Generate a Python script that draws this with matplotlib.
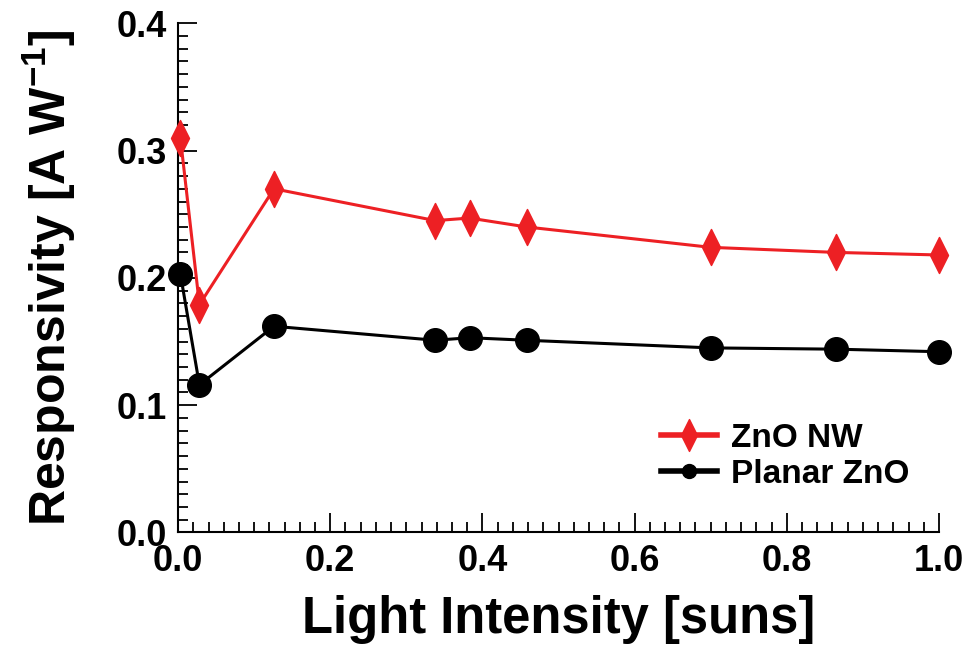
import numpy as np
import matplotlib.pyplot as plt
from matplotlib.lines import Line2D
from matplotlib.path import Path
from matplotlib.ticker import MultipleLocator

# light intensity [suns]
intensity = [0.003, 0.028, 0.126, 0.338, 0.383, 0.458, 0.700, 0.865, 1.000]
# responsivity [A/W]
resp_nw = [0.310, 0.179, 0.270, 0.245, 0.247, 0.240, 0.224, 0.220, 0.218]
resp_planar = [0.203, 0.116, 0.162, 0.151, 0.153, 0.151, 0.145, 0.144, 0.142]

plt.rcParams.update({
    "font.family": ["Liberation Sans", "DejaVu Sans"],
    "font.weight": "bold",
    "mathtext.fontset": "custom",
    "mathtext.bf": "Liberation Sans:bold",
    "mathtext.rm": "Liberation Sans:bold",
})

# slim diamond, about twice as tall as wide
diamond = Path([(0, 1), (0.5, 0), (0, -1), (-0.5, 0), (0, 1)],
               [Path.MOVETO, Path.LINETO, Path.LINETO, Path.LINETO, Path.CLOSEPOLY])

fig = plt.figure(figsize=(9.68, 6.47), dpi=100)
ax = fig.add_axes([0.184, 0.177, 0.786, 0.787])

red = "#ED2024"
ax.plot(intensity, resp_nw, color=red, lw=2.2, marker=diamond, ms=26,
        mec=red, mfc=red, zorder=3, clip_on=False)
ax.plot(intensity, resp_planar, color="black", lw=2.2, marker="o", ms=17,
        zorder=3, clip_on=False)

ax.set_xlim(0, 1.0)
ax.set_ylim(0, 0.4)
ax.spines["top"].set_visible(False)
ax.spines["right"].set_visible(False)
for s in ("left", "bottom"):
    ax.spines[s].set_linewidth(1.5)

ax.xaxis.set_minor_locator(MultipleLocator(0.02))
ax.yaxis.set_minor_locator(MultipleLocator(0.01))
ax.tick_params(which="major", direction="in", length=14, width=1.3,
               labelsize=26, pad=8)
ax.tick_params(which="minor", direction="in", length=7, width=1.3)
ax.set_xticks([0.0, 0.2, 0.4, 0.6, 0.8, 1.0])
ax.set_xticklabels(["0.0", "0.2", "0.4", "0.6", "0.8", "1.0"], fontweight="bold")
ax.set_yticks([0.0, 0.1, 0.2, 0.3, 0.4])
ax.set_yticklabels(["0.0", "0.1", "0.2", "0.3", "0.4"], fontweight="bold")

ax.set_xlabel("Light Intensity [suns]", fontsize=36.5, fontweight="bold", labelpad=12)
ax.set_ylabel(r"Responsivity [A W$^{\mathbf{-1}}$]", fontsize=36, fontweight="bold",
              labelpad=28)

handles = [
    Line2D([], [], color=red, lw=4, marker=diamond, ms=23, mec=red, mfc=red),
    Line2D([], [], color="black", lw=4, marker="o", ms=10),
]
ax.legend(handles, ["ZnO NW", "Planar ZnO"], loc="lower right",
          bbox_to_anchor=(1.0, 0.025), frameon=False, handlelength=1.7,
          handletextpad=0.4, labelspacing=0.15,
          prop={"weight": "bold", "size": 24})

fig.savefig("out.png", dpi=100)
